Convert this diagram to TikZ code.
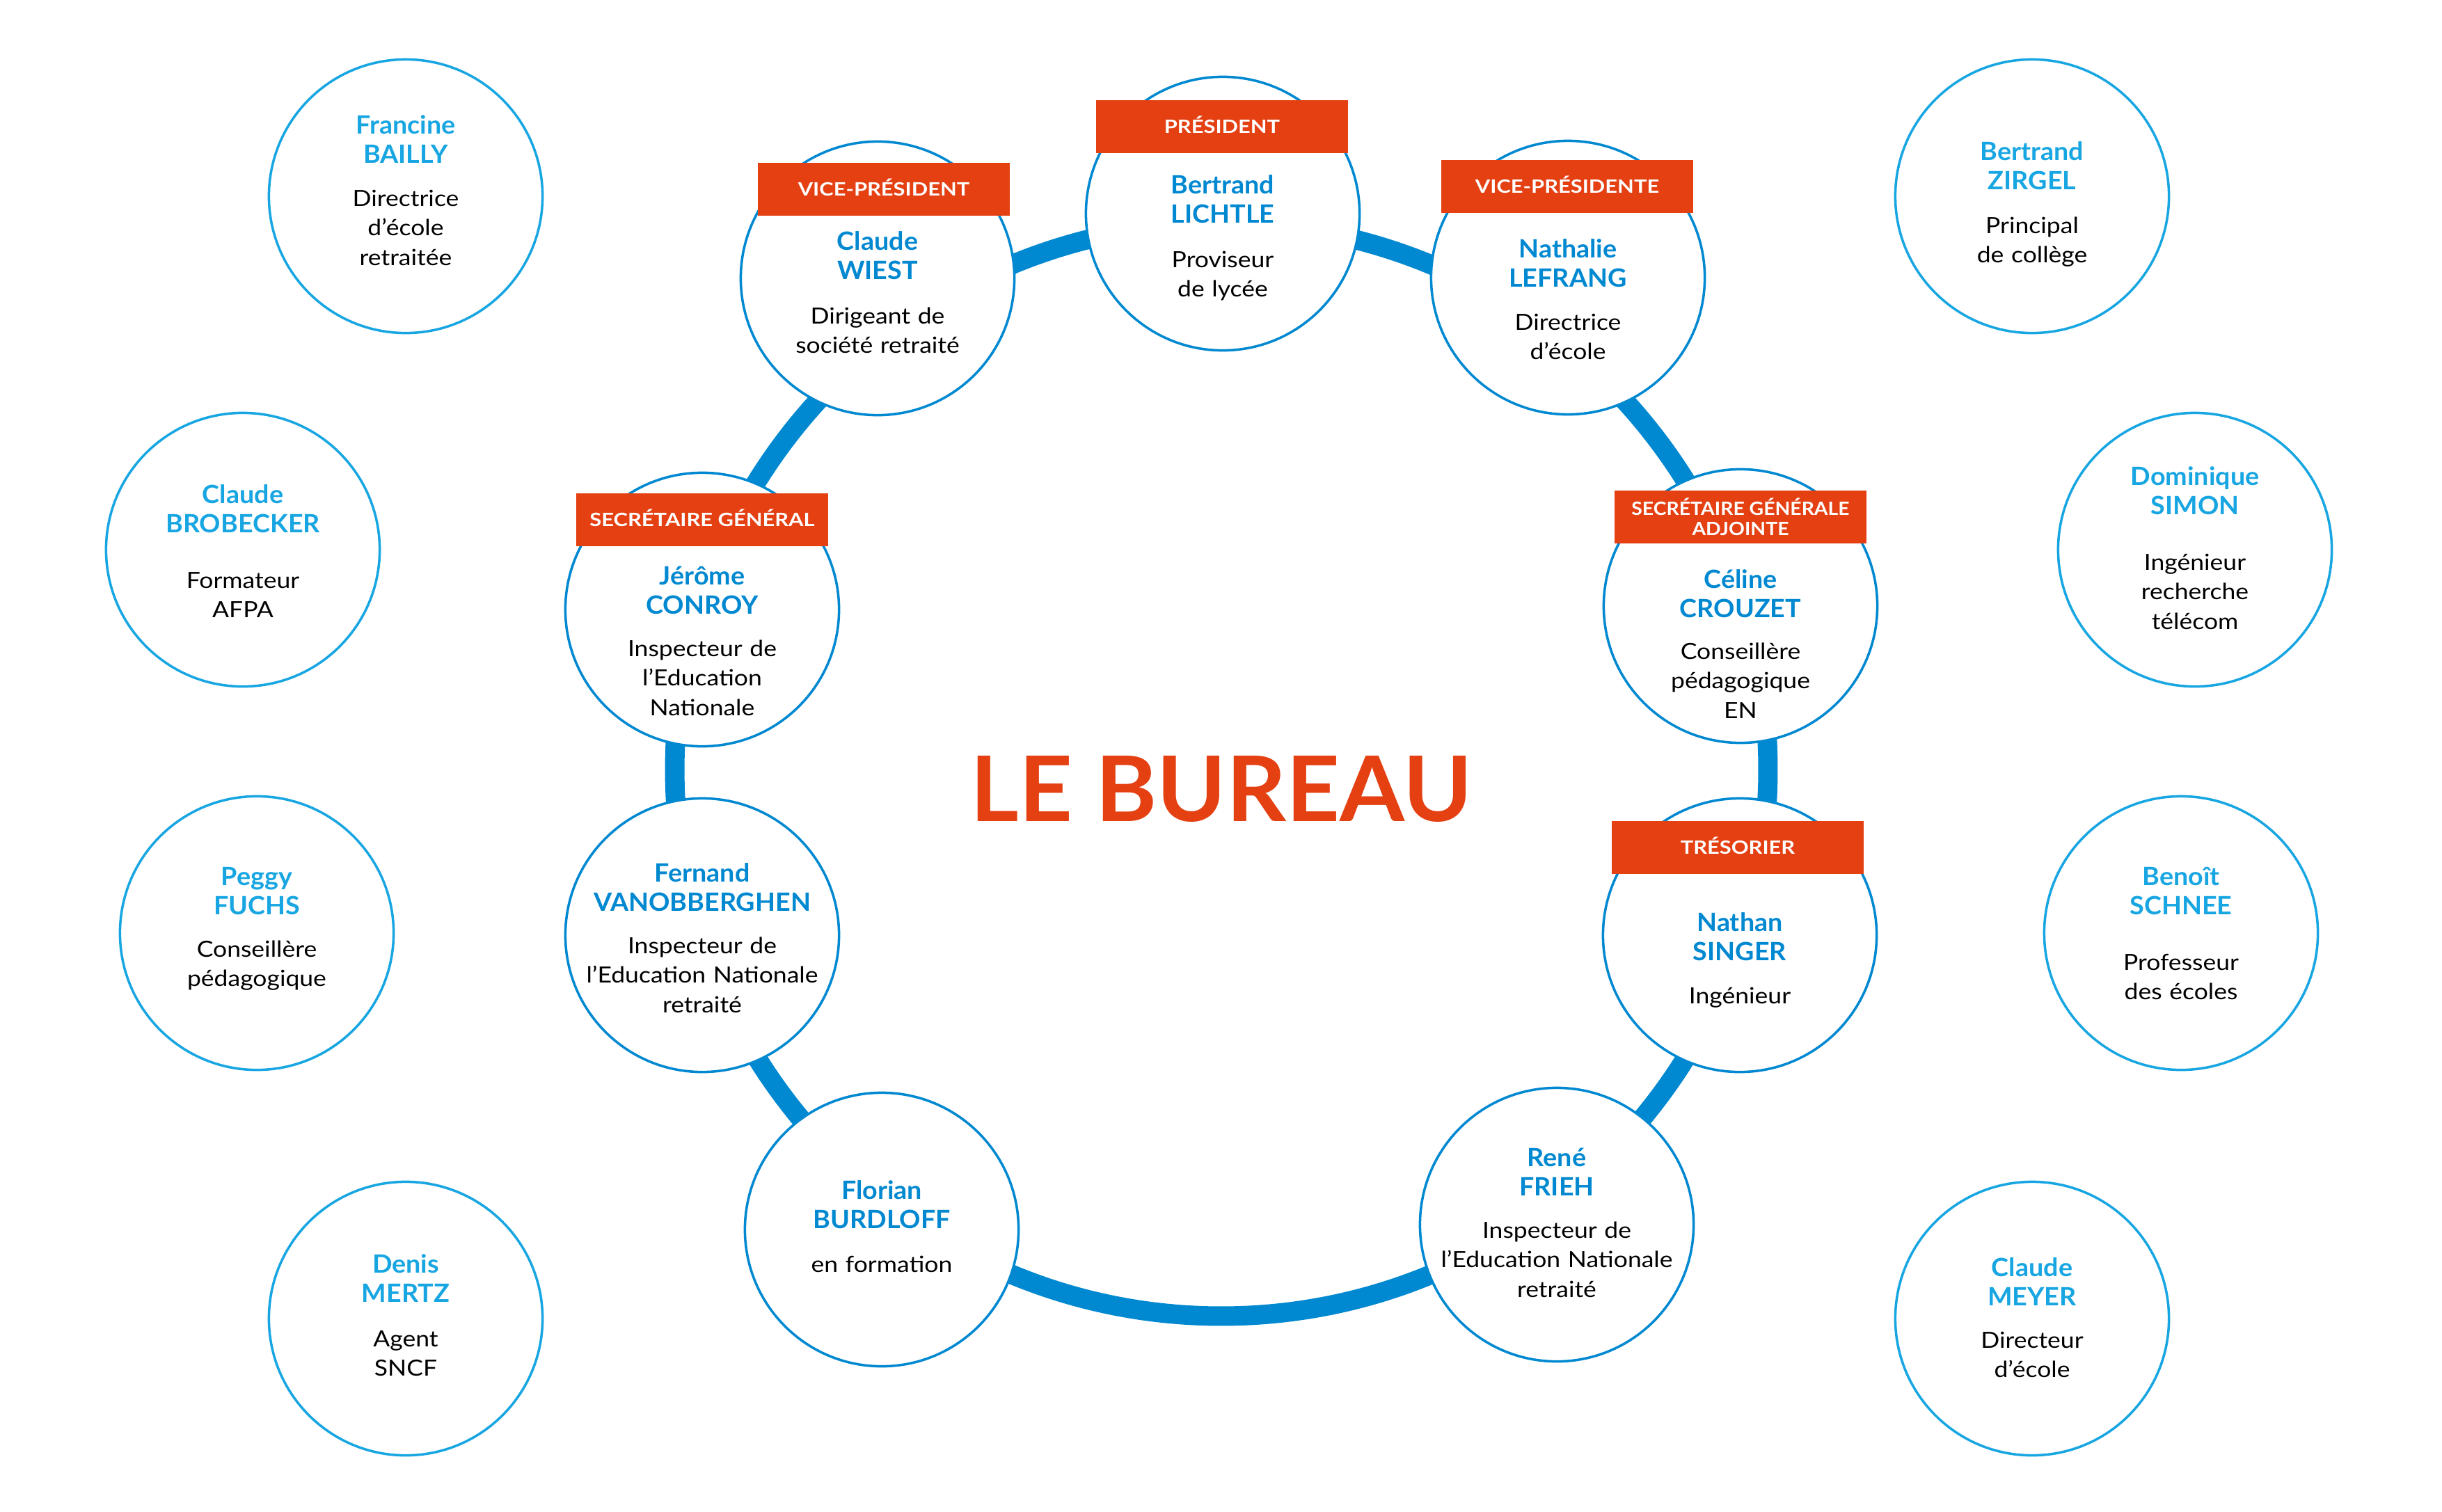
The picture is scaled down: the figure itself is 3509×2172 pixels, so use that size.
\documentclass[tikz,border=0pt]{standalone}
\usepackage{fontspec}
\setmainfont{Lato}
\newfontfamily\rolefont{Lato}[FakeStretch=1.11]
\newfontfamily\namefont{Lato}[FakeStretch=1.04]
\newfontfamily\labelfont{Lato}[FakeStretch=1.17]
\newfontfamily\sgafont{Lato}[FakeStretch=1.075]
\newfontfamily\titlefont{Lato}[FakeStretch=1.03]
\definecolor{ringblue}{RGB}{0,136,209}
\definecolor{outblue}{RGB}{24,166,226}
\definecolor{lred}{RGB}{228,64,18}
\begin{document}
\begin{tikzpicture}[x=0.01cm,y=-0.01cm,
  person/.style={circle,draw=ringblue,line width=1pt,fill=white,minimum size=3.93cm,inner sep=0pt},
  outer/.style={person,draw=outblue},
  nametxt/.style={anchor=base,text width=3.8cm,align=center,inner sep=0pt,font=\namefont\fontsize{10.3pt}{12.2pt}\selectfont\bfseries,text=ringblue},
  onametxt/.style={nametxt,text=outblue},
  roletxt/.style={anchor=base,text width=3.8cm,align=center,inner sep=0pt,font=\rolefont\fontsize{9.1pt}{12.2pt}\selectfont,text=black},
  redbox/.style={fill=lred,minimum width=3.62cm,minimum height=0.75cm,inner sep=0pt,text=white},
  rolebox/.style={redbox,font=\labelfont\fontsize{7.5pt}{9pt}\selectfont\bfseries,text height=5.4pt,text depth=0pt},
  sgabox/.style={redbox,align=center,font=\sgafont\fontsize{7.5pt}{8.2pt}\selectfont\bfseries},
  ring/.style={draw=ringblue,line width=0.28cm},
  title/.style={anchor=base,text=lred,inner sep=0pt,font=\titlefont\fontsize{37pt}{40pt}\selectfont\bfseries}]
\fill[white] (0,0) rectangle (3509,2172);
\useasboundingbox (0,0) rectangle (3509,2172);
% ring
\draw[ring] (1755,1106) circle (7.85cm);
% outer circles
\node[outer] (bailly) at (583,282) {};
\node[outer] (zirgel) at (2920,282) {};
\node[outer] (brobecker) at (349,790) {};
\node[outer] (simon) at (3154,790) {};
\node[outer] (fuchs) at (369,1341) {};
\node[outer] (schnee) at (3134,1341) {};
\node[outer] (mertz) at (583,1895) {};
\node[outer] (meyer) at (2920,1895) {};
% inner circles
\node[person] (lichtle) at (1757,307) {};
\node[person] (wiest) at (1261,400) {};
\node[person] (lefrang) at (2253,399) {};
\node[person] (conroy) at (1009,876) {};
\node[person] (crouzet) at (2501,871) {};
\node[person] (vanob) at (1009,1344) {};
\node[person] (singer) at (2500,1344) {};
\node[person] (burdloff) at (1267,1767) {};
\node[person] (frieh) at (2237,1760) {};
% outer texts
\node[onametxt] (baillyN) at (583,192) {Francine\\BAILLY};
\node[roletxt] (baillyR) at (583,296) {Directrice\\d’école\\retraitée};
\node[onametxt] (zirgelN) at (2920,230) {Bertrand\\ZIRGEL};
\node[roletxt] (zirgelR) at (2920,335) {Principal\\de collège};
\node[onametxt] (brobeckerN) at (349,723) {Claude\\BROBECKER};
\node[roletxt] (brobeckerR) at (349,845) {Formateur\\AFPA};
\node[onametxt] (simonN) at (3154,697) {Dominique\\SIMON};
\node[roletxt] (simonR) at (3154,819) {Ingénieur\\recherche\\télécom};
\node[onametxt] (fuchsN) at (369,1272) {Peggy\\FUCHS};
\node[roletxt] (fuchsR) at (369,1375) {Conseillère\\pédagogique};
\node[onametxt] (schneeN) at (3134,1272) {Benoît\\SCHNEE};
\node[roletxt] (schneeR) at (3134,1394) {Professeur\\des écoles};
\node[onametxt] (mertzN) at (583,1829) {Denis\\MERTZ};
\node[roletxt] (mertzR) at (583,1935) {Agent\\SNCF};
\node[onametxt] (meyerN) at (2920,1834) {Claude\\MEYER};
\node[roletxt] (meyerR) at (2920,1937) {Directeur\\d’école};
% inner texts
\node[nametxt] (lichtleN) at (1757,278) {Bertrand\\LICHTLE};
\node[roletxt] (lichtleR) at (1757,384) {Proviseur\\de lycée};
\node[nametxt] (wiestN) at (1261,359) {Claude\\WIEST};
\node[roletxt] (wiestR) at (1261,465) {Dirigeant de\\société retraité};
\node[nametxt] (lefrangN) at (2253,370) {Nathalie\\LEFRANG};
\node[roletxt] (lefrangR) at (2253,474) {Directrice\\d’école};
\node[nametxt] (conroyN) at (1009,840) {Jérôme\\CONROY};
\node[roletxt] (conroyR) at (1009,943) {Inspecteur de\\l’Education\\Nationale};
\node[nametxt] (crouzetN) at (2501,845) {Céline\\CROUZET};
\node[roletxt] (crouzetR) at (2501,947) {Conseillère\\pédagogique\\EN};
\node[nametxt] (vanobN) at (1009,1267) {Fernand\\VANOBBERGHEN};
\node[roletxt] (vanobR) at (1009,1370) {Inspecteur de\\l’Education Nationale\\retraité};
\node[nametxt] (singerN) at (2500,1338) {Nathan\\SINGER};
\node[roletxt] (singerR) at (2500,1442) {Ingénieur};
\node[nametxt] (burdloffN) at (1267,1723) {Florian\\BURDLOFF};
\node[roletxt] (burdloffR) at (1267,1828) {en formation};
\node[nametxt] (friehN) at (2237,1676) {René\\FRIEH};
\node[roletxt] (friehR) at (2237,1779) {Inspecteur de\\l’Education Nationale\\retraité};
% role labels
\node[rolebox] (lichtleL) at (1756,182) {PRÉSIDENT};
\node[rolebox] (wiestL) at (1270,272) {VICE-PRÉSIDENT};
\node[rolebox] (lefrangL) at (2252,268) {VICE-PRÉSIDENTE};
\node[rolebox] (conroyL) at (1009,747) {SECRÉTAIRE GÉNÉRAL};
\node[sgabox] (crouzetL) at (2501,743) {SECRÉTAIRE GÉNÉRALE\\ADJOINTE};
\node[rolebox] (singerL) at (2497,1218) {TRÉSORIER};
% title
\node[title] (bureau) at (1755,1180) {LE BUREAU};
\end{tikzpicture}
\end{document}
